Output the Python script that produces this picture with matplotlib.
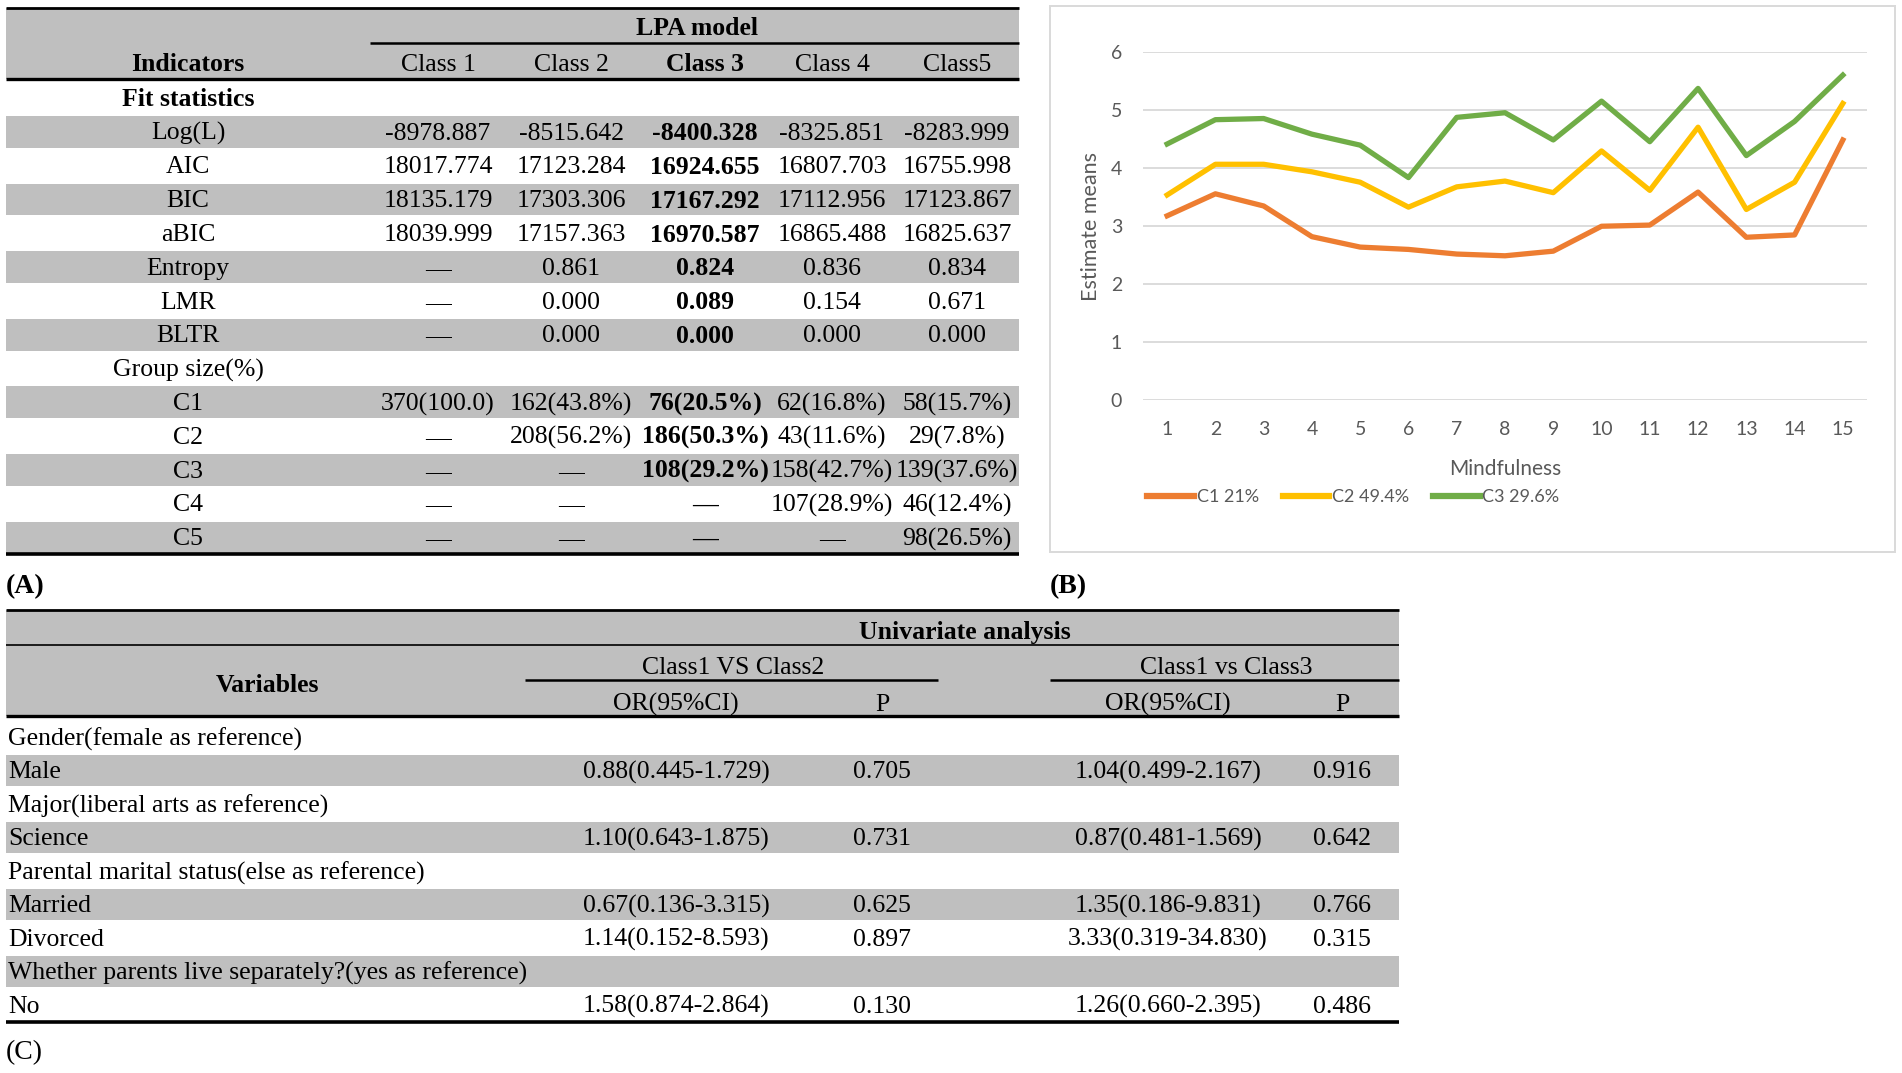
import matplotlib
matplotlib.use("Agg")
import matplotlib.pyplot as plt
from matplotlib.patches import Rectangle
from matplotlib.lines import Line2D

# ---- data: table A (LPA fit) ----
class_headers = ["Class 1", "Class 2", "Class 3", "Class 4", "Class5"]
row_labels_a = ["Fit statistics", "Log(L)", "AIC", "BIC", "aBIC", "Entropy", "LMR", "BLTR",
                "Group size(%)", "C1", "C2", "C3", "C4", "C5"]
D = "\u2014"
cells_a = [
    ["", "", "", "", ""],
    ["-8978.887", "-8515.642", "-8400.328", "-8325.851", "-8283.999"],
    ["18017.774", "17123.284", "16924.655", "16807.703", "16755.998"],
    ["18135.179", "17303.306", "17167.292", "17112.956", "17123.867"],
    ["18039.999", "17157.363", "16970.587", "16865.488", "16825.637"],
    [D, "0.861", "0.824", "0.836", "0.834"],
    [D, "0.000", "0.089", "0.154", "0.671"],
    [D, "0.000", "0.000", "0.000", "0.000"],
    ["", "", "", "", ""],
    ["370(100.0)", "162(43.8%)", "76(20.5%)", "62(16.8%)", "58(15.7%)"],
    [D, "208(56.2%)", "186(50.3%)", "43(11.6%)", "29(7.8%)"],
    [D, D, "108(29.2%)", "158(42.7%)", "139(37.6%)"],
    [D, D, D, "107(28.9%)", "46(12.4%)"],
    [D, D, D, D, "98(26.5%)"],
]

# ---- data: chart B (profile means) ----
items = list(range(1, 16))
c1_means = [3.18, 3.56, 3.35, 2.82, 2.64, 2.60, 2.52, 2.49, 2.57, 3.00, 3.02, 3.59, 2.81, 2.85, 4.49]
c2_means = [3.54, 4.07, 4.07, 3.94, 3.76, 3.33, 3.68, 3.78, 3.58, 4.30, 3.62, 4.71, 3.29, 3.76, 5.12]
c3_means = [4.42, 4.84, 4.86, 4.59, 4.40, 3.84, 4.88, 4.96, 4.49, 5.16, 4.46, 5.38, 4.22, 4.81, 5.61]
series_labels = ["C1 21%", "C2 49.4%", "C3 29.6%"]
series_colors = ["#ED7D31", "#FFC000", "#70AD47"]

# ---- data: table C (univariate analysis) ----
row_labels_c = ["Gender(female as reference)", "Male", "Major(liberal arts as reference)", "Science",
                "Parental marital status(else as reference)", "Married", "Divorced",
                "Whether parents live separately?(yes as reference)", "No"]
or_12 = ["", "0.88(0.445-1.729)", "", "1.10(0.643-1.875)", "", "0.67(0.136-3.315)",
         "1.14(0.152-8.593)", "", "1.58(0.874-2.864)"]
p_12 = ["", "0.705", "", "0.731", "", "0.625", "0.897", "", "0.130"]
or_13 = ["", "1.04(0.499-2.167)", "", "0.87(0.481-1.569)", "", "1.35(0.186-9.831)",
         "3.33(0.319-34.830)", "", "1.26(0.660-2.395)"]
p_13 = ["", "0.916", "", "0.642", "", "0.766", "0.315", "", "0.486"]

W, H = 1902, 1073
fig = plt.figure(figsize=(W / 100, H / 100), dpi=100)
ov = fig.add_axes([0, 0, 1, 1])
ov.set_xlim(0, W)
ov.set_ylim(H, 0)
ov.axis("off")

SERIF = "Liberation Serif"
FS = 18.5
GRAY = "#bfbfbf"
DY = 1.8  # text sits a little below the row centre


def txt(x, y, s, ha="center", bold=False, size=FS):
    ov.text(x, y + DY, s, ha=ha, va="center", fontsize=size, family=SERIF,
            fontweight="bold" if bold else "normal", color="black")


def hline(y, x0, x1, lw=2.0):
    ov.plot([x0, x1], [y, y], color="black", lw=lw, solid_capstyle="butt")


# ---------------- table A ----------------
ax0, ax1 = 6, 1019
col_x_a = [438, 571, 705, 832, 957]
lab_x_a = 188
ov.add_patch(Rectangle((ax0, 8), ax1 - ax0, 71, color=GRAY, lw=0))
pitch_a = 33.8
ys_a = [98 + pitch_a * i for i in range(len(row_labels_a))]
for i, y in enumerate(ys_a):
    if i % 2 == 1:
        ov.add_patch(Rectangle((ax0, y - pitch_a / 2 + 1), ax1 - ax0, pitch_a - 2, color=GRAY, lw=0))
hline(8, ax0, ax1)
hline(43, 370, ax1, lw=1.8)
hline(79, ax0, ax1, lw=2.4)
hline(ys_a[-1] + pitch_a / 2, ax0, ax1, lw=2.6)

txt(697, 27, "LPA model", bold=True)
txt(lab_x_a, 63, "Indicators", bold=True)
for j, h in enumerate(class_headers):
    txt(col_x_a[j], 63, h, bold=(j == 2))
for i, (lab, row) in enumerate(zip(row_labels_a, cells_a)):
    txt(lab_x_a, ys_a[i], lab, bold=(i == 0))
    for j, v in enumerate(row):
        if v:
            txt(col_x_a[j], ys_a[i], v, bold=(j == 2))

txt(6, 585, "(A)", ha="left", bold=True, size=20)
txt(1050, 585, "(B)", ha="left", bold=True, size=20)

# ---------------- chart B ----------------
ov.add_patch(Rectangle((1050, 6), 845, 546, fill=False, edgecolor="#d9d9d9", lw=1.4))
y_top, y_bot = 52.5, 400
bx0, bx1 = 1143, 1867
ax = fig.add_axes([bx0 / W, 1 - y_bot / H, (bx1 - bx0) / W, (y_bot - y_top) / H])
ax.patch.set_alpha(0)
for vals, lab, col in zip([c1_means, c2_means, c3_means], series_labels, series_colors):
    ax.plot(items, vals, color=col, lw=3.8, label=lab, solid_joinstyle="round")
ax.set_xlim(0.5, 15.5)
ax.set_ylim(0, 6)
ax.set_yticks(range(0, 7))
ax.set_xticks(items)
ax.grid(axis="y", color="#d9d9d9", lw=1.3)
ax.set_axisbelow(True)
for s in ax.spines.values():
    s.set_visible(False)
SANS = "Lato"
ax.tick_params(length=0, labelsize=14, labelcolor="#595959", pad=15)
for t in ax.get_xticklabels() + ax.get_yticklabels():
    t.set_family(SANS)
ax.set_xlabel("Mindfulness", fontsize=15, color="#595959", family=SANS, labelpad=15)
ax.set_ylabel("Estimate means", fontsize=15.5, color="#595959", family=SANS, labelpad=7)
handles = [Line2D([], [], color=c, lw=4.5) for c in series_colors]
ax.legend(handles, series_labels, ncol=3, frameon=False, loc="center left",
          bbox_to_anchor=(1131 / W, 1 - 497 / H), bbox_transform=fig.transFigure,
          prop={"family": SANS, "size": 13}, handlelength=2.6, handletextpad=0.15,
          columnspacing=1.3, labelcolor="#595959")

# ---------------- table C ----------------
cx0, cx1 = 6, 1399
ov.add_patch(Rectangle((cx0, 610), cx1 - cx0, 106, color=GRAY, lw=0))
pitch_c = 33.5
ys_c = [737 + pitch_c * i for i in range(len(row_labels_c))]
for i, y in enumerate(ys_c):
    if i % 2 == 1:
        ov.add_patch(Rectangle((cx0, y - pitch_c / 2 + 1), cx1 - cx0, pitch_c - 2, color=GRAY, lw=0))
hline(610, cx0, cx1)
hline(645, cx0, cx1, lw=1.2)
hline(680, 525, 938, lw=1.8)
hline(680, 1050, cx1, lw=1.8)
hline(716, cx0, cx1, lw=2.4)
hline(ys_c[-1] + 17, cx0, cx1, lw=2.6)

txt(965, 631, "Univariate analysis", bold=True)
txt(267, 684, "Variables", bold=True)
txt(733, 666, "Class1 VS Class2")
txt(1226, 666, "Class1 vs Class3")
or_x = [676, 1168]
p_x = [882, 1342]
for k in range(2):
    txt(or_x[k], 703, "OR(95%CI)")
    txt(p_x[k], 703, "P")
for i, lab in enumerate(row_labels_c):
    y = ys_c[i]
    txt(8, y, lab, ha="left")
    for x, col in zip([or_x[0], p_x[0], or_x[1], p_x[1]], [or_12, p_12, or_13, p_13]):
        if col[i]:
            txt(x, y, col[i])

txt(6, 1051, "(C)", ha="left", size=20)

fig.savefig("out.png", dpi=100)
